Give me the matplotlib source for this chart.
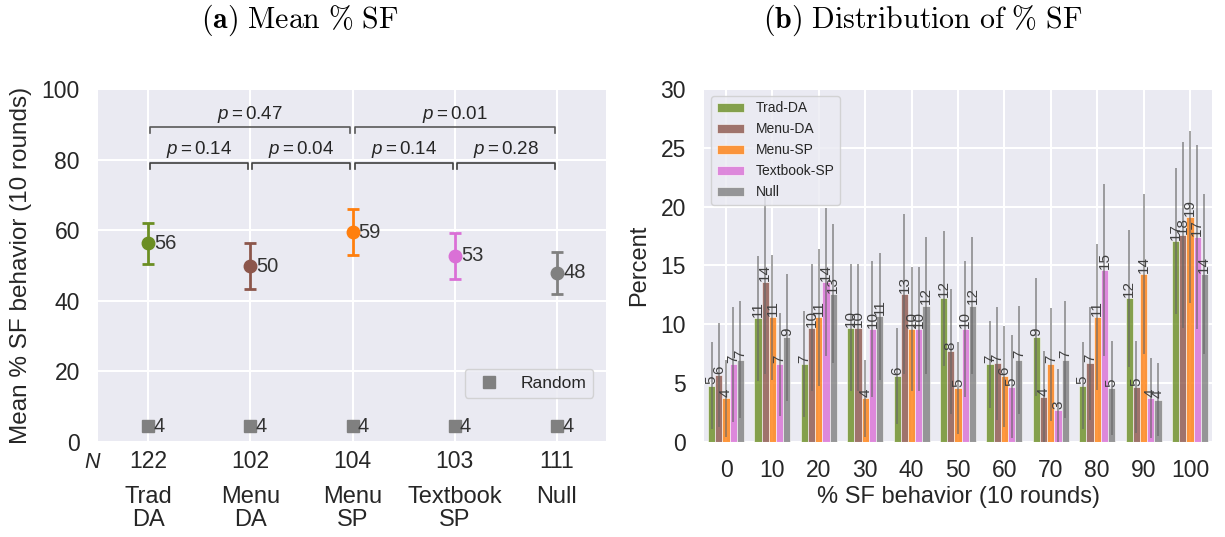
import matplotlib
matplotlib.use('Agg')
import matplotlib.pyplot as plt
import matplotlib.transforms as mtransforms
import numpy as np

plt.rcParams['font.family'] = ['Liberation Sans', 'DejaVu Sans']
plt.rcParams['mathtext.fontset'] = 'custom'
plt.rcParams['mathtext.rm'] = 'Liberation Sans'
plt.rcParams['mathtext.it'] = 'Liberation Sans:italic'
plt.rcParams['text.color'] = '0.15'
plt.rcParams['axes.labelcolor'] = '0.15'
plt.rcParams['xtick.color'] = '0.15'
plt.rcParams['ytick.color'] = '0.15'

# ---- panel (a) data ----
groups = ['Trad\nDA', 'Menu\nDA', 'Menu\nSP', 'Textbook\nSP', 'Null']
n_obs = [122, 102, 104, 103, 111]
mean_sf = [56.3, 49.8, 59.4, 52.8, 47.9]
ci_low = [50.5, 43.2, 52.9, 46.3, 42.0]
ci_high = [62.1, 56.3, 66.0, 59.1, 53.7]
random_sf = [4.4, 4.4, 4.4, 4.4, 4.4]
colors = ['#6b8e23', '#8c564b', '#ff7f0e', '#da70d6', '#808080']
pairs_near = [(0, 1), (1, 2), (2, 3), (3, 4)]
p_near = [0.14, 0.04, 0.14, 0.28]
pairs_wide = [(0, 2), (2, 4)]
p_wide = [0.47, 0.01]

# ---- panel (b) data ----
names = ['Trad-DA', 'Menu-DA', 'Menu-SP', 'Textbook-SP', 'Null']
bins = [0, 10, 20, 30, 40, 50, 60, 70, 80, 90, 100]
trad_da = [4.8, 10.5, 6.6, 9.7, 5.6, 12.2, 6.6, 8.9, 4.8, 12.2, 17.1]
trad_da_err = [3.7, 5.3, 4.5, 5.4, 4.1, 5.7, 3.7, 5.0, 3.7, 5.8, 6.2]
menu_da = [5.7, 13.6, 9.7, 9.7, 12.6, 7.7, 6.7, 3.8, 6.7, 4.7, 17.6]
menu_da_err = [4.4, 7.8, 5.4, 5.4, 6.8, 5.3, 4.8, 3.9, 4.8, 3.9, 7.9]
menu_sp = [3.7, 10.6, 10.6, 3.7, 9.6, 4.6, 5.6, 6.6, 10.6, 14.3, 19.1]
menu_sp_err = [3.3, 5.3, 5.8, 3.3, 5.3, 3.9, 4.3, 4.8, 6.2, 6.8, 7.3]
textbook_sp = [6.6, 6.6, 13.6, 9.6, 9.6, 9.6, 4.7, 2.7, 14.6, 3.7, 17.4]
textbook_sp_err = [4.9, 4.4, 6.3, 5.8, 5.3, 5.8, 4.4, 3.5, 7.3, 3.4, 7.8]
null = [7.0, 8.9, 12.6, 10.7, 11.6, 11.6, 7.0, 7.0, 4.6, 3.6, 14.3]
null_err = [5.0, 5.4, 5.9, 5.4, 5.8, 5.8, 4.6, 5.0, 4.0, 3.1, 6.8]

bar_vals = [trad_da, menu_da, menu_sp, textbook_sp, null]
bar_errs = [trad_da_err, menu_da_err, menu_sp_err, textbook_sp_err, null_err]


def dark_grid(ax):
    ax.set_facecolor('#EAEAF2')
    for s in ax.spines.values():
        s.set_visible(False)
    ax.grid(True, color='white', linewidth=1.5)
    ax.set_axisbelow(True)
    ax.tick_params(length=0, labelsize=16.5)


fig = plt.figure(figsize=(12.25, 5.37), dpi=100)
ax1 = fig.add_axes([0.0800, 0.1769, 0.4147, 0.6574])
ax2 = fig.add_axes([0.5747, 0.1769, 0.4147, 0.6574])

# ---------- (a) ----------
dark_grid(ax1)
x = np.arange(len(groups))
for i in range(len(groups)):
    ax1.errorbar(x[i], mean_sf[i],
                 yerr=[[mean_sf[i] - ci_low[i]], [ci_high[i] - mean_sf[i]]],
                 fmt='o', color=colors[i], ms=9, elinewidth=2,
                 capsize=4, capthick=2)
    ax1.text(x[i] + 0.06, mean_sf[i], f'{mean_sf[i]:.0f}', va='center',
             ha='left', fontsize=14.5, color='0.2')
ax1.plot(x, random_sf, 's', color='#808080', ms=8, linestyle='none',
         label='Random')
for i in range(len(groups)):
    ax1.text(x[i] + 0.05, random_sf[i], f'{random_sf[i]:.0f}', va='center',
             ha='left', fontsize=14.5, color='0.2')

# significance brackets
for (a, b), p in zip(pairs_near, p_near):
    ax1.plot([a + 0.02, a + 0.02, b - 0.02, b - 0.02],
             [77.4, 79.1, 79.1, 77.4], color='0.25', lw=1.2)
    ax1.text((a + b) / 2, 82.8, rf'$p = {p:.2f}$', ha='center',
             va='center', fontsize=13.5, color='0.15')
for (a, b), p in zip(pairs_wide, p_wide):
    ax1.plot([a + 0.02, a + 0.02, b - 0.02, b - 0.02],
             [87.4, 89.2, 89.2, 87.4], color='0.35', lw=1.2)
    ax1.text((a + b) / 2, 92.8, rf'$p = {p:.2f}$', ha='center',
             va='center', fontsize=13.5, color='0.15')

ax1.set_xlim(-0.49, 4.48)
ax1.set_ylim(0, 100)
ax1.set_yticks(range(0, 101, 20))
ax1.set_xticks(x)
ax1.set_xticklabels([str(n) for n in n_obs])
ax1.tick_params(axis='x', pad=6)
ax1.tick_params(axis='y', pad=13)
trans = mtransforms.blended_transform_factory(ax1.transData, ax1.transAxes)
for i, g in enumerate(groups):
    ax1.text(x[i], -0.125, g, transform=trans, ha='center', va='top',
             fontsize=17, linespacing=1.05)
fig.text(92 / 1225, 1 - 462 / 537, 'N', fontstyle='italic', fontsize=15.5,
         ha='center', va='center', color='0.15')
ax1.set_ylabel('Mean % SF behavior (10 rounds)', fontsize=17.5)
ax1.yaxis.set_label_coords(-0.13, 0.5)
leg1 = ax1.legend(loc='lower right', bbox_to_anchor=(0.975, 0.125),
                  borderaxespad=0, fontsize=12.5, frameon=True)
leg1.get_frame().set_facecolor('#EAEAF2')
leg1.get_frame().set_edgecolor('0.8')

fig.text(0.245, 0.962, r'$\mathbf{(a)}\ \mathrm{Mean}\ \%\ \mathrm{SF}$',
         ha='center', va='center', fontsize=21.5, math_fontfamily='cm',
         color='black')

# ---------- (b) ----------
dark_grid(ax2)
xb = np.arange(len(bins))
w = 0.155
for k in range(len(names)):
    pos = xb + (k - 2) * w
    ax2.bar(pos, bar_vals[k], width=w, color=colors[k], alpha=0.8,
            edgecolor='white', linewidth=0.5, label=names[k])
    ax2.errorbar(pos, bar_vals[k], yerr=bar_errs[k], fmt='none',
                 ecolor='0.4', elinewidth=1.2, alpha=0.7, capsize=0)
    for px, v in zip(pos, bar_vals[k]):
        ax2.text(px, v + 0.1, str(int(np.floor(v + 0.5))), rotation=90,
                 ha='center', va='bottom', fontsize=11, color='0.25')

ax2.set_xlim(-0.475, 10.475)
ax2.set_ylim(0, 30)
ax2.set_yticks(range(0, 31, 5))
ax2.set_xticks(xb)
ax2.set_xticklabels([str(b) for b in bins])
ax2.tick_params(axis='x', pad=12)
ax2.tick_params(axis='y', pad=13)
ax2.set_xlabel('% SF behavior (10 rounds)', fontsize=17)
ax2.xaxis.set_label_coords(0.5, -0.125)
ax2.set_ylabel('Percent', fontsize=17)
ax2.yaxis.set_label_coords(-0.106, 0.5)
leg2 = ax2.legend(loc='upper left', fontsize=10, frameon=True)
leg2.get_frame().set_facecolor('#EAEAF2')
leg2.get_frame().set_edgecolor('0.8')

fig.text(0.753, 0.962,
         r'$\mathbf{(b)}\ \mathrm{Distribution\ of}\ \%\ \mathrm{SF}$',
         ha='center', va='center', fontsize=21.5, math_fontfamily='cm',
         color='black')

fig.savefig('out.png', dpi=100)
